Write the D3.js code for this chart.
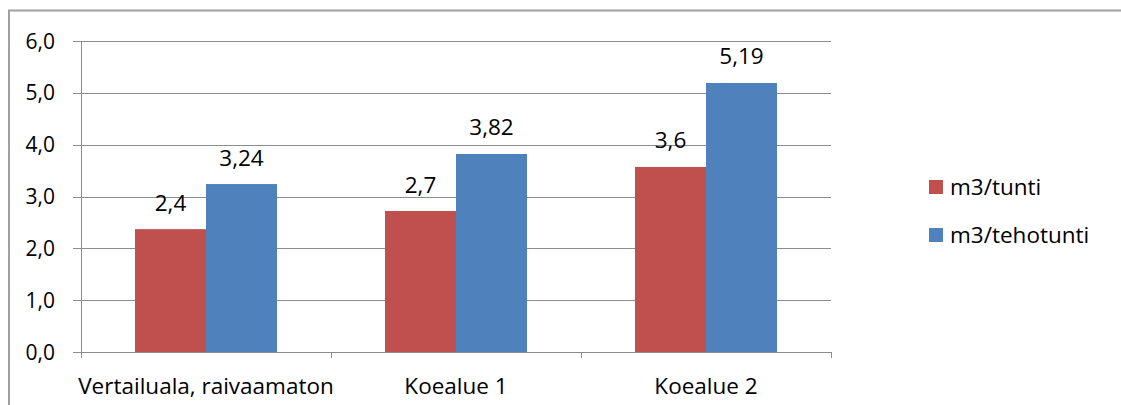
<!DOCTYPE html>
<html><head><meta charset="utf-8">
<script src="https://cdn.jsdelivr.net/npm/d3@7"></script>
<style>body{margin:0;background:#fff}svg{display:block}text{font-family:"Open Sans",sans-serif;fill:#000}</style>
</head><body>
<script>
const categories = ["Vertailuala, raivaamaton", "Koealue 1", "Koealue 2"];
const seriesNames = ["m3/tunti", "m3/tehotunti"];
const tuntiValues = [2.37, 2.72, 3.57];
const tuntiLabels = ["2,4", "2,7", "3,6"];
const tehoValues = [3.24, 3.82, 5.19];
const tehoLabels = ["3,24", "3,82", "5,19"];
const yTicks = [0, 1, 2, 3, 4, 5, 6];
const yTickLabels = ["0,0", "1,0", "2,0", "3,0", "4,0", "5,0", "6,0"];
const colors = ["#C0504D", "#4F81BD"];

const W = 1121, H = 405;
const FS = "22.5px";
const svg = d3.select("body").append("svg").attr("width", W).attr("height", H);
// chart border
svg.append("rect").attr("x", 9).attr("y", 10.5).attr("width", 1140).attr("height", 420)
  .attr("fill", "none").attr("stroke", "#a0a0a0").attr("stroke-width", 2);

const x0 = 81, x1 = 831, yTop = 41, yBot = 352;
const x = d3.scaleBand().domain(categories).range([x0, x1]).padding(0);
const y = d3.scaleLinear().domain([0, 6]).range([yBot, yTop]);
const inner = d3.scaleBand().domain(seriesNames).range([54, 250 - 54]).padding(0);

// gridlines
svg.append("g").selectAll("line").data(yTicks).join("line")
  .attr("x1", x0 - 8).attr("x2", x1).attr("y1", d => Math.round(y(d)) + 0.5).attr("y2", d => Math.round(y(d)) + 0.5)
  .attr("stroke", "#8c8c8c").attr("stroke-width", 1);

// y tick labels
svg.append("g").selectAll("text").data(yTicks).join("text")
  .attr("x", 55).attr("y", d => y(d)).attr("dy", "0.36em").attr("text-anchor", "end")
  .style("font-size", "21px").text((d, i) => yTickLabels[i]);

const data = [
  { name: seriesNames[0], values: tuntiValues, labels: tuntiLabels, color: colors[0] },
  { name: seriesNames[1], values: tehoValues, labels: tehoLabels, color: colors[1] }
];

data.forEach(s => {
  const g = svg.append("g");
  g.selectAll("rect").data(s.values).join("rect")
    .attr("x", (d, i) => x(categories[i]) + inner(s.name))
    .attr("width", inner.bandwidth())
    .attr("y", d => y(d)).attr("height", d => y(0) - y(d))
    .attr("fill", s.color);
  g.selectAll("text").data(s.values).join("text")
    .attr("x", (d, i) => x(categories[i]) + inner(s.name) + inner.bandwidth() / 2)
    .attr("y", d => y(d) - 18.5).attr("text-anchor", "middle")
    .style("font-size", FS).text((d, i) => s.labels[i]);
});

// axes lines
svg.append("line").attr("x1", x0 + 0.5).attr("x2", x0 + 0.5).attr("y1", yTop).attr("y2", yBot + 6)
  .attr("stroke", "#8c8c8c");
svg.append("line").attr("x1", x0 - 8).attr("x2", x1).attr("y1", yBot + 0.5).attr("y2", yBot + 0.5)
  .attr("stroke", "#8c8c8c");
const catTicks = categories.map(c => x(c)).concat([x1]);
svg.append("g").selectAll("line").data(catTicks).join("line")
  .attr("x1", d => d + 0.5).attr("x2", d => d + 0.5).attr("y1", yBot).attr("y2", yBot + 6)
  .attr("stroke", "#8c8c8c");

// category labels
svg.append("g").selectAll("text").data(categories).join("text")
  .attr("x", d => x(d) + x.bandwidth() / 2).attr("y", 394).attr("text-anchor", "middle")
  .style("font-size", FS).text(d => d);

// legend
const lg = svg.append("g");
data.forEach((s, i) => {
  const ly = 180 + i * 48;
  lg.append("rect").attr("x", 929).attr("y", ly).attr("width", 14).attr("height", 14).attr("fill", s.color);
  lg.append("text").attr("x", 950).attr("y", ly + 15).style("font-size", FS).text(s.name);
});
</script>
</body></html>
